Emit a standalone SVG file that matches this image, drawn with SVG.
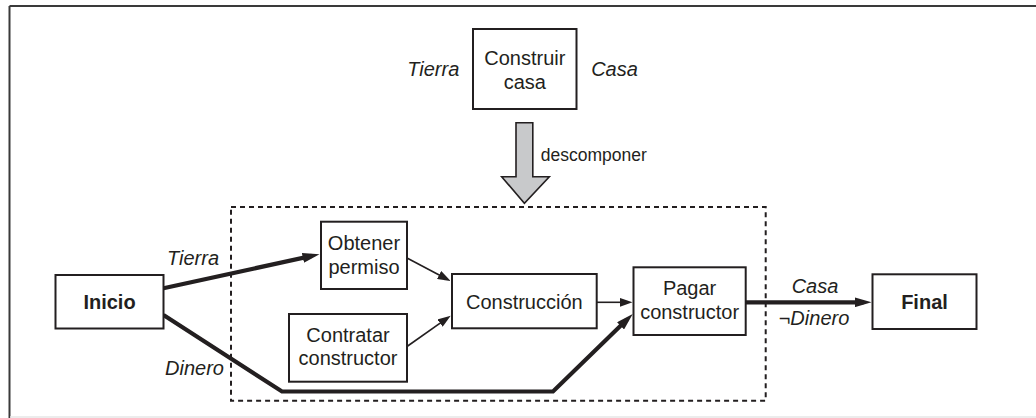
<svg xmlns="http://www.w3.org/2000/svg" width="1036" height="418" viewBox="0 0 1036 418">
<style>
.box{fill:#fff;stroke:#231f20;stroke-width:2}
.t{font-family:"Liberation Sans",Arial,sans-serif;font-size:20px;fill:#231f20;text-anchor:middle}
.b{font-weight:bold}
.i{font-style:italic}
.thin{fill:none;stroke:#231f20;stroke-width:1.6}
.thick{fill:none;stroke:#231f20;stroke-width:4.2;stroke-linejoin:miter}
</style>
<defs>
<marker id="ah" markerUnits="userSpaceOnUse" markerWidth="13" markerHeight="9" refX="7" refY="4.5" orient="auto">
<path d="M0,0 L13,4.5 L0,9 z" fill="#231f20"/>
</marker>
<marker id="ahb" markerUnits="userSpaceOnUse" markerWidth="17" markerHeight="10" refX="9" refY="5" orient="auto">
<path d="M0,0 L17,5 L0,10 z" fill="#231f20"/>
</marker>
</defs>
<rect width="1036" height="418" fill="#fff"/>
<g id="frame">
<line x1="9.5" y1="6" x2="1036" y2="6" stroke="#3a3a3a" stroke-width="2"/>
<line x1="9.5" y1="6" x2="9.5" y2="418" stroke="#3a3a3a" stroke-width="2"/>
<line x1="10" y1="417" x2="1036" y2="417" stroke="#e6e6e6" stroke-width="1.5"/>
</g>
<g id="top">
<rect class="box" x="473" y="29" width="103.5" height="80"/>
<text class="t" x="524.8" y="64.5">Construir</text>
<text class="t" x="524.8" y="88.5">casa</text>
<text class="t i" x="433.3" y="75.8" font-size="19">Tierra</text>
<text class="t i" x="614.5" y="75.8" font-size="19">Casa</text>
</g>
<g id="decompose">
<path d="M516,122.7 L532.8,122.7 L532.8,176.7 L549.3,176.7 L524.4,203.3 L501.7,176.7 L516,176.7 z" fill="#c8c9cb" stroke="#231f20" stroke-width="1.6" stroke-linejoin="miter"/>
<text x="540.7" y="160.8" font-family="Liberation Sans,Arial,sans-serif" font-size="17.5" fill="#231f20">descomponer</text>
</g>
<g id="subplan">
<rect x="231" y="207" width="534.7" height="193.7" fill="none" stroke="#231f20" stroke-width="2" stroke-dasharray="5,4"/>
</g>
<g id="connectors">
<path class="thick" d="M163.5,288.3 L311.7,255.9" marker-end="url(#ahb)"/>
<path class="thick" d="M163.5,315 L282,391.5 L553,391.5 L627,319.6" marker-end="url(#ahb)"/>
<path class="thick" d="M746,302.3 L863.5,302.3" marker-end="url(#ahb)"/>
<path class="thin" d="M407,258 L445.3,278.2" marker-end="url(#ah)"/>
<path class="thin" d="M407,346.5 L445.8,319.1" marker-end="url(#ah)"/>
<path class="thin" d="M597,302.3 L626.5,302.3" marker-end="url(#ah)"/>
<text class="t i" x="193" y="265" font-size="19">Tierra</text>
<text class="t i" x="194.5" y="374.5" font-size="19">Dinero</text>
<text class="t i" x="815" y="292.8" font-size="19">Casa</text>
<text class="t i" x="814" y="325" font-size="19">¬Dinero</text>
</g>
<g id="inicio">
<rect class="box" x="55.5" y="275" width="108" height="53.5"/>
<text class="t b" x="109.5" y="308.5">Inicio</text>
</g>
<g id="obtener">
<rect class="box" x="321" y="221.7" width="86" height="67.3"/>
<text class="t" x="364" y="250">Obtener</text>
<text class="t" x="364" y="273.5">permiso</text>
</g>
<g id="contratar">
<rect class="box" x="289" y="314" width="118" height="67.7"/>
<text class="t" x="348" y="341.7">Contratar</text>
<text class="t" x="348" y="365.2">constructor</text>
</g>
<g id="construccion">
<rect class="box" x="452" y="274" width="144.7" height="54.3"/>
<text class="t" x="524.3" y="308.5">Construcción</text>
</g>
<g id="pagar">
<rect class="box" x="633.5" y="267.3" width="112.2" height="67.7"/>
<text class="t" x="689.6" y="295.3">Pagar</text>
<text class="t" x="689.6" y="319.3">constructor</text>
</g>
<g id="final">
<rect class="box" x="872.5" y="274.3" width="104" height="54.7"/>
<text class="t b" x="924.5" y="309">Final</text>
</g>
</svg>
